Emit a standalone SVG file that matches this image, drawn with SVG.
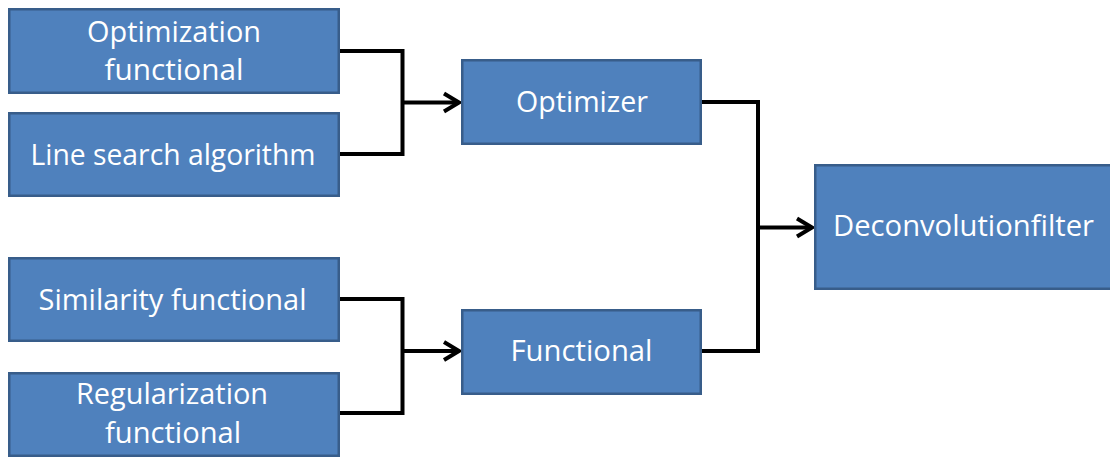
<svg xmlns="http://www.w3.org/2000/svg" width="1110" height="458" viewBox="0 0 1110 458">
<style>
.box{fill:#4F81BD;stroke:#385D8A;stroke-width:2.5}
.lbl{font-family:"Open Sans","Noto Sans","Liberation Sans",sans-serif;font-size:28.5px;fill:#FFFFFF}
.con{fill:none;stroke:#000000;stroke-width:4;stroke-linejoin:miter}
</style>
<defs>
<marker id="arr" markerUnits="userSpaceOnUse" markerWidth="22" markerHeight="24" refX="17" refY="12" orient="auto">
<path d="M2,3 L17,12 L2,21" fill="none" stroke="#000" stroke-width="4"/>
</marker>
</defs>
<rect width="1110" height="458" fill="#FFFFFF"/>
<g id="connectors">
<path class="con" d="M340,51 H402.5 V154 H340"/>
<path class="con" d="M402.5,102.5 H459" marker-end="url(#arr)"/>
<path class="con" d="M340,299 H402.5 V413 H340"/>
<path class="con" d="M402.5,351 H459" marker-end="url(#arr)"/>
<path class="con" d="M702,102 H758 V351 H702"/>
<path class="con" d="M758,227.5 H812" marker-end="url(#arr)"/>
</g>
<g id="node-optimization-functional">
<rect class="box" x="9.25" y="9.25" width="329.5" height="83.5"/>
<text class="lbl" x="174" y="41.5" text-anchor="middle" textLength="174" lengthAdjust="spacingAndGlyphs">Optimization</text>
<text class="lbl" x="174" y="80" text-anchor="middle" textLength="139" lengthAdjust="spacingAndGlyphs">functional</text>
</g>
<g id="node-line-search">
<rect class="box" x="9.25" y="113.25" width="329.5" height="82.5"/>
<text class="lbl" x="173" y="164.5" text-anchor="middle" textLength="285" lengthAdjust="spacingAndGlyphs">Line search algorithm</text>
</g>
<g id="node-similarity">
<rect class="box" x="9.25" y="258.25" width="329.5" height="82.5"/>
<text class="lbl" x="172.5" y="309.5" text-anchor="middle" textLength="268" lengthAdjust="spacingAndGlyphs">Similarity functional</text>
</g>
<g id="node-regularization">
<rect class="box" x="9.25" y="373.25" width="329.5" height="82.5"/>
<text class="lbl" x="172" y="403.5" text-anchor="middle" textLength="192" lengthAdjust="spacingAndGlyphs">Regularization</text>
<text class="lbl" x="173" y="443" text-anchor="middle" textLength="136" lengthAdjust="spacingAndGlyphs">functional</text>
</g>
<g id="node-optimizer">
<rect class="box" x="462.25" y="60.25" width="238.5" height="83.5"/>
<text class="lbl" x="582" y="111.5" text-anchor="middle" textLength="132" lengthAdjust="spacingAndGlyphs">Optimizer</text>
</g>
<g id="node-functional">
<rect class="box" x="462.25" y="310.25" width="238.5" height="83.5"/>
<text class="lbl" x="581.5" y="360.5" text-anchor="middle" textLength="142" lengthAdjust="spacingAndGlyphs">Functional</text>
</g>
<g id="node-deconvolutionfilter">
<rect class="box" x="815.25" y="165.25" width="297.5" height="123.5"/>
<text class="lbl" x="963.5" y="236" text-anchor="middle" textLength="261" lengthAdjust="spacingAndGlyphs">Deconvolutionfilter</text>
</g>
</svg>
